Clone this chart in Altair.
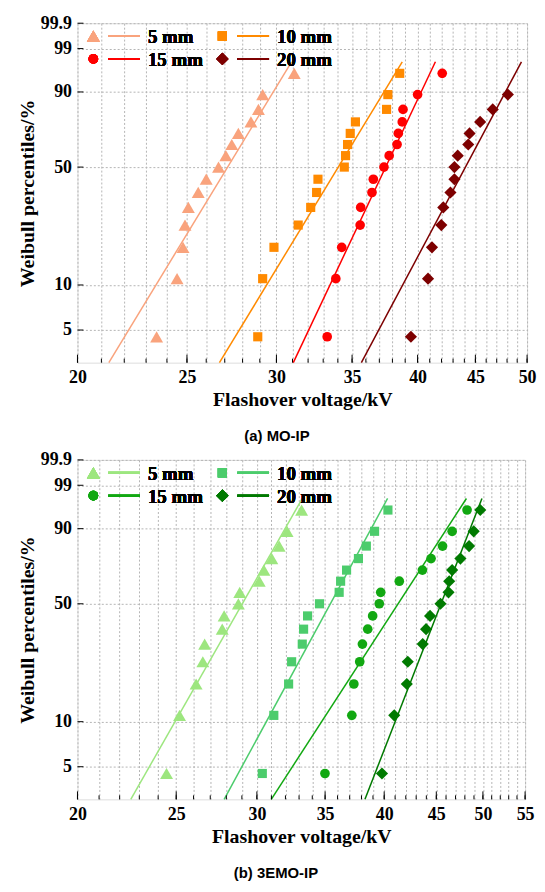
import math
import altair as alt
import pandas as pd

# ---------------- data ----------------
SERIES = ["5 mm", "10 mm", "15 mm", "20 mm"]
SHAPES = ["triangle-up", "square", "circle", "diamond"]
SIZES = [170, 85, 95, 150]

# Weibull percentiles (%) of the ranked observations (15 per gap)
PCT = [4.5, 11.0, 17.5, 24.0, 30.5, 37.0, 43.5, 50.0, 56.5, 63.0, 69.5, 76.0, 82.5, 89.0, 95.5]
# percentiles at the two ends of each fitted line
FIT_PCT = [3.0, 97.6]

Y_TICKS = [5, 10, 50, 90, 99, 99.9]
Y_RANGE = [3.0, 99.9]

# (a) MO-IP
A_COLORS = ["#F9A37D", "#FF8A00", "#FF0000", "#7D0000"]
A_5MM = [23.50, 24.50, 24.80, 24.90, 25.07, 25.58, 26.00, 26.66, 27.06, 27.39, 27.76, 28.48, 28.92, 29.17, 31.11]
A_10MM = [28.88, 29.17, 29.85, 31.36, 32.17, 32.56, 32.65, 34.45, 34.54, 34.68, 34.87, 35.24, 37.55, 37.65, 38.57]
A_15MM = [33.27, 33.86, 34.27, 35.58, 35.62, 36.45, 36.55, 37.35, 37.75, 38.36, 38.46, 38.77, 38.83, 40.00, 42.06]
A_20MM = [39.46, 40.86, 41.19, 41.98, 42.15, 42.77, 43.12, 43.12, 43.41, 44.35, 44.47, 45.44, 46.62, 48.08]
A_FIT_LO = [21.32, 26.71, 31.05, 35.67]
A_FIT_HI = [30.94, 38.77, 41.48, 49.43]
A_XTICKS = list(range(20, 51))
A_XMAJOR = [20, 25, 30, 35, 40, 45, 50]

# (b) 3EMO-IP
B_COLORS = ["#9DE67F", "#4CCC6C", "#12A812", "#007A00"]
B_5MM = [24.46, 25.19, 26.15, 26.55, 26.66, 27.74, 27.86, 28.77, 28.86, 30.16, 30.48, 31.03, 31.55, 32.12, 33.19]
B_10MM = [30.37, 31.17, 32.23, 32.45, 33.24, 33.34, 33.64, 34.56, 36.13, 36.25, 36.74, 37.74, 38.42, 39.14, 40.34]
B_15MM = [34.99, 37.18, 37.35, 37.85, 38.08, 38.54, 38.97, 39.56, 39.69, 41.39, 43.61, 44.47, 45.64, 46.64, 48.24]
B_20MM = [39.80, 40.92, 42.10, 42.19, 43.64, 43.97, 44.37, 45.43, 46.26, 46.33, 46.64, 47.52, 48.46, 48.97, 49.70]
B_FIT_LO = [22.56, 27.86, 30.99, 38.30]
B_FIT_HI = [33.24, 40.31, 48.17, 49.89]
B_XTICKS = list(range(20, 56))
B_XMAJOR = [20, 25, 30, 35, 40, 45, 50, 55]

# ---------------- styling ----------------
SERIF = "Liberation Serif"
SANS = "Liberation Sans"
H = 342
GRID = "#b4b4b4"


def weib(p):
    return math.log(-math.log(1 - p / 100.0))


T_EXPR = "log(-log(1 - datum.pct / 100))"


def y_label_expr():
    vals = [weib(p) for p in Y_TICKS]
    expr = "'" + str(Y_TICKS[-1]) + "'"
    for i in range(len(Y_TICKS) - 2, -1, -1):
        mid = (vals[i] + vals[i + 1]) / 2
        expr = f"datum.value < {mid:.4f} ? '{Y_TICKS[i]}' : ({expr})"
    return expr


def panel(series_vals, fit_lo, fit_hi, colors, xticks, xmajor, width, caption):
    xscale = alt.Scale(type="log", domain=[xticks[0], xticks[-1]], nice=False)
    yscale = alt.Scale(domain=[weib(Y_RANGE[0]), weib(Y_RANGE[1])], nice=False, zero=False)

    major_list = "[" + ",".join(str(v) for v in xmajor) + "]"
    xaxis = alt.Axis(
        values=xticks, grid=True, gridDash=[2, 2], gridColor=GRID, gridWidth=1,
        ticks=False, domain=False, labelOverlap=False, labelFlush=False,
        labelExpr=f"indexof({major_list}, datum.value) >= 0 ? '' + datum.value : ''",
        labelFont=SERIF, labelFontSize=18, labelFontWeight="bold", labelColor="black",
        labelPadding=6,
        title="Flashover voltage/kV", titleFont=SERIF, titleFontSize=20,
        titleFontWeight="bold", titleColor="black", titlePadding=3,
    )
    yaxis = alt.Axis(
        values=[weib(p) for p in Y_TICKS], grid=True, gridDash=[2, 2], gridColor=GRID,
        gridWidth=1, ticks=False, domain=False, labelOverlap=False, labelFlush=False,
        labelExpr=y_label_expr(),
        labelFont=SERIF, labelFontSize=18, labelFontWeight="bold", labelColor="black",
        labelPadding=6,
        title="Weibull percentiles/%", titleFont=SERIF, titleFontSize=20,
        titleFontWeight="bold", titleColor="black", titleX=-40,
    )
    X = alt.X("kv:Q", scale=xscale, axis=xaxis)
    Y = alt.Y("t:Q", scale=yscale, axis=yaxis)

    layers = []
    # fitted Weibull lines
    for s, lo, hi, c in zip(SERIES, fit_lo, fit_hi, colors):
        fit = pd.DataFrame({"kv": [lo, hi], "pct": FIT_PCT})
        layers.append(alt.Chart(fit).transform_calculate(t=T_EXPR).mark_line(
            strokeWidth=1.5, color=c).encode(x=X, y=Y))
    # measured points
    for s, vals, c, shp, sz in zip(SERIES, series_vals, colors, SHAPES, SIZES):
        pts = pd.DataFrame({"kv": vals, "pct": PCT[:len(vals)]})
        layers.append(alt.Chart(pts).transform_calculate(t=T_EXPR).mark_point(
            filled=True, opacity=1, strokeWidth=0, shape=shp, size=sz, color=c).encode(x=X, y=Y))

    # inward ticks
    xt = pd.DataFrame({"kv": xticks})
    xm = pd.DataFrame({"kv": xmajor})
    layers.append(alt.Chart(xt).mark_rule(color="black", strokeWidth=1).encode(
        x=X, y=alt.value(H), y2=alt.value(H - 4)))
    layers.append(alt.Chart(xm).mark_rule(color="black", strokeWidth=1).encode(
        x=X, y=alt.value(H), y2=alt.value(H - 8)))
    yt = pd.DataFrame({"pct": Y_TICKS})
    layers.append(alt.Chart(yt).transform_calculate(t=T_EXPR).mark_rule(
        color="black", strokeWidth=1).encode(y=Y, x=alt.value(0), x2=alt.value(6)))

    # legend (two columns, two rows)
    for i, s in enumerate(SERIES):
        col, row = i % 2, i // 2
        ox = 130 * col
        oy = 13 + 23 * row
        layers.append(alt.Chart(xm).mark_point(
            shape=SHAPES[i], filled=True, opacity=1, strokeWidth=0, size=SIZES[i],
            color=colors[i]).encode(x=alt.value(16 + ox), y=alt.value(oy)))
        layers.append(alt.Chart(xm).mark_rule(color=colors[i], strokeWidth=2).encode(
            x=alt.value(31 + ox), x2=alt.value(63 + ox), y=alt.value(oy)))
        layers.append(alt.Chart(xm).mark_text(
            align="left", baseline="middle", font=SERIF, fontSize=19, fontWeight="bold",
            color="black").encode(x=alt.value(71 + ox), y=alt.value(oy + 1), text=alt.value(s)))

    return alt.layer(*layers).properties(
        width=width, height=H,
        title=alt.TitleParams(caption, orient="bottom", font=SANS, fontSize=15,
                              fontWeight="bold", color="black", offset=20, frame="bounds"),
    )


pa = panel([A_5MM, A_10MM, A_15MM, A_20MM], A_FIT_LO, A_FIT_HI, A_COLORS,
           A_XTICKS, A_XMAJOR, 453, "(a) MO-IP")
pb = panel([B_5MM, B_10MM, B_15MM, B_20MM], B_FIT_LO, B_FIT_HI, B_COLORS,
           B_XTICKS, B_XMAJOR, 451, "(b) 3EMO-IP")

chart = alt.vconcat(pa, pb, spacing=5).properties(
    padding={"left": 9, "top": 2, "right": 0, "bottom": 2}
).configure_view(stroke="black", strokeWidth=1.5).configure(background="white")

chart.save("out.html", embed_options={"renderer": "svg", "actions": False})
